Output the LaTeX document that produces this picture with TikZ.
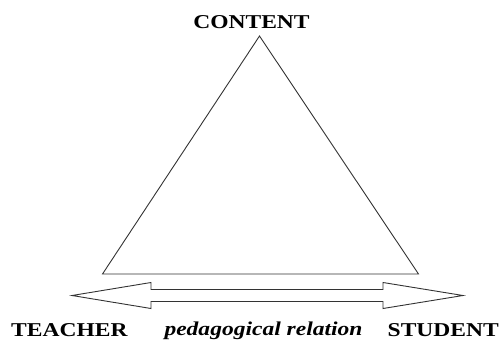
\documentclass[tikz,border=0pt]{standalone}
\usepackage{fontspec}
\usepackage{graphicx}
\setmainfont{Liberation Serif}
\newcommand{\lbl}[1]{\scalebox{1.2}[1]{#1}}
\begin{document}
\begin{tikzpicture}[x=1pt,y=-1pt,
  lab/.style={inner sep=0pt,font=\fontsize{19.6}{22}\selectfont\bfseries},
  shape line/.style={draw=black!80,line width=0.9pt,line join=miter}]
\useasboundingbox (0,0) rectangle (502,340);
\coordinate (apex) at (259.5,36);
\coordinate (bl) at (102.5,274);
\coordinate (br) at (418.5,274);
\draw[shape line] (apex) -- (bl) -- (br) -- cycle;
\coordinate (lt) at (72,295.5);
\coordinate (rt) at (463,295.5);
\draw[shape line] (lt) -- (151,282.5) -- (151,289.5) -- (383,289.5) -- (383,282.5) -- (rt)
  -- (383,308.5) -- (383,301.5) -- (151,301.5) -- (151,308.5) -- cycle;
\node[lab,anchor=base] (content) at (251.5,28) {\lbl{CONTENT}};
\node[lab,anchor=base west] (teacher) at (11,336) {\lbl{TEACHER}};
\node[lab,anchor=base east] (student) at (499,336) {\lbl{STUDENT}};
\node[lab,anchor=base,font=\fontsize{19.6}{22}\selectfont\bfseries\itshape] (relation) at (263.5,335) {\lbl{pedagogical relation}};
\end{tikzpicture}
\end{document}
